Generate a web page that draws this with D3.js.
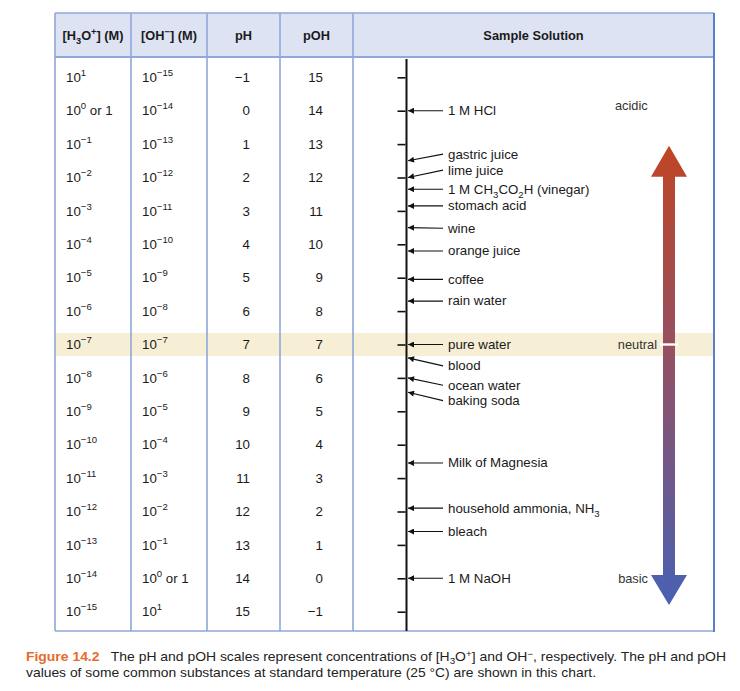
<!DOCTYPE html>
<html><head><meta charset="utf-8">
<script src="https://cdn.jsdelivr.net/npm/d3@7"></script>
<style>
body{margin:0;background:#fff;}
svg{display:block;font-family:"Liberation Sans",Arial,sans-serif;}
</style></head>
<body><svg id="c" width="740" height="691"></svg>
<script>
// ---- data ----
const pHValues   = [-1, 0, 1, 2, 3, 4, 5, 6, 7, 8, 9, 10, 11, 12, 13, 14, 15];
const pOHValues  = [15, 14, 13, 12, 11, 10, 9, 8, 7, 6, 5, 4, 3, 2, 1, 0, -1];
const h3oExp     = ["1", "0", "−1", "−2", "−3", "−4", "−5", "−6", "−7", "−8", "−9", "−10", "−11", "−12", "−13", "−14", "−15"];
const ohExp      = ["−15", "−14", "−13", "−12", "−11", "−10", "−9", "−8", "−7", "−6", "−5", "−4", "−3", "−2", "−1", "0", "1"];
const headers    = ["[H_3O^+] (M)", "[OH^−] (M)", "pH", "pOH", "Sample Solution"];
const sampleNames = ["1 M HCl", "gastric juice", "lime juice", "1 M CH_3CO_2H (vinegar)", "stomach acid", "wine", "orange juice", "coffee", "rain water", "pure water", "blood", "ocean water", "baking soda", "Milk of Magnesia", "household ammonia, NH_3", "bleach", "1 M NaOH"];
const samplePH    = [0, 1.5, 2.0, 2.35, 2.85, 3.5, 4.2, 5.05, 5.7, 7.0, 7.4, 8.0, 8.43, 10.55, 11.9, 12.6, 14.0];
const labelPH     = [0, 1.3, 1.78, 2.35, 2.85, 3.52, 4.2, 5.05, 5.7, 7.0, 7.64, 8.22, 8.68, 10.55, 11.9, 12.6, 14.0];
const neutralPH = 7;
const sideLabels = [{t:"acidic", pH:0}, {t:"neutral", pH:7}, {t:"basic", pH:14}];

// ---- helpers ----
const svg = d3.select("#c");
function rich(sel, str, fs) {
  let parts = [];
  for (let i = 0; i < str.length; i++) {
    const ch = str[i];
    if ((ch === "_" || ch === "^") && i + 1 < str.length) {
      parts.push({t: str[i+1], s: ch === "_" ? "sub" : "sup"}); i++;
    } else {
      if (parts.length && !parts[parts.length-1].s) parts[parts.length-1].t += ch;
      else parts.push({t: ch, s: null});
    }
  }
  let shift = 0;
  parts.forEach(p => {
    const target = p.s === "sup" ? -fs*0.4 : p.s === "sub" ? fs*0.3 : 0;
    const ts = sel.append("tspan").text(p.t).attr("dy", target - shift);
    if (p.s) ts.attr("font-size", fs*0.72);
    shift = target;
  });
}
function power(sel, exp, fs, suffix) {
  sel.append("tspan").text("10");
  sel.append("tspan").text(exp).attr("dy", -fs*0.45).attr("font-size", fs*0.72);
  if (suffix) sel.append("tspan").text(suffix).attr("dy", fs*0.45);
}

// ---- layout ----
const L = 55, R = 714, T = 13, HB = 57, B = 631;
const colX = [55, 131, 207, 280, 353, 714];
const y = d3.scaleLinear().domain([-1, 15]).range([77.3, 611.7]);
const axisX = 406.5;
const fs = 13.3;
const border = "#8fa7d9";

svg.append("rect").attr("x", L).attr("y", T).attr("width", R - L).attr("height", HB - T).attr("fill", "#dee3f3");
svg.append("rect").attr("x", L).attr("y", y(neutralPH) - 11.5).attr("width", R - L).attr("height", 23).attr("fill", "#f6eed5");

const g = svg.append("g").attr("stroke", border).attr("stroke-width", 1.6);
colX.slice(0, 5).forEach(x => g.append("line").attr("x1", x).attr("x2", x).attr("y1", T).attr("y2", B));
g.append("line").attr("x1", L).attr("x2", R).attr("y1", T).attr("y2", T);
g.append("line").attr("x1", L).attr("x2", R).attr("y1", B).attr("y2", B);
g.append("line").attr("x1", L).attr("x2", R).attr("y1", HB).attr("y2", HB).attr("stroke-width", 2);
svg.append("line").attr("x1", R).attr("x2", R).attr("y1", T).attr("y2", B + 1).attr("stroke", "#5d7fcb").attr("stroke-width", 2);

headers.forEach((h, i) => {
  const t = svg.append("text").attr("x", (colX[i] + colX[i+1]) / 2).attr("y", 40)
    .attr("text-anchor", "middle").attr("font-weight", "bold").attr("font-size", 12.8).attr("fill", "#1a1a1a");
  rich(t, h, 12.8);
});

pHValues.forEach((p, i) => {
  const by = y(p) + 4.6;
  const t1 = svg.append("text").attr("x", 66).attr("y", by).attr("font-size", fs).attr("fill", "#1a1a1a");
  power(t1, h3oExp[i], fs, h3oExp[i] === "0" ? " or 1" : null);
  const t2 = svg.append("text").attr("x", 142).attr("y", by).attr("font-size", fs).attr("fill", "#1a1a1a");
  power(t2, ohExp[i], fs, ohExp[i] === "0" ? " or 1" : null);
  svg.append("text").attr("x", 250).attr("y", by).attr("text-anchor", "end").attr("font-size", fs).attr("fill", "#1a1a1a")
    .text(String(p).replace("-", "−"));
  svg.append("text").attr("x", 323).attr("y", by).attr("text-anchor", "end").attr("font-size", fs).attr("fill", "#1a1a1a")
    .text(String(pOHValues[i]).replace("-", "−"));
});

svg.append("line").attr("x1", axisX).attr("x2", axisX).attr("y1", 59).attr("y2", B).attr("stroke", "#111").attr("stroke-width", 2);
const ax = svg.append("g").attr("transform", `translate(${axisX - 1},0)`)
  .call(d3.axisLeft(y).tickValues(pHValues).tickSize(8).tickFormat(""));
ax.select(".domain").remove();
ax.selectAll(".tick line").attr("stroke", "#111").attr("stroke-width", 1.6);

const defs = svg.append("defs");
defs.append("marker").attr("id", "ah").attr("viewBox", "0 0 10 10").attr("refX", 10).attr("refY", 5)
  .attr("markerWidth", 9).attr("markerHeight", 6).attr("markerUnits", "userSpaceOnUse").attr("orient", "auto")
  .append("path").attr("d", "M0,0 L10,5 L0,10 Z").attr("fill", "#111");
sampleNames.forEach((n, i) => {
  svg.append("line").attr("x1", 443).attr("y1", y(labelPH[i])).attr("x2", axisX + 1.5).attr("y2", y(samplePH[i]))
    .attr("stroke", "#111").attr("stroke-width", 1.1).attr("marker-end", "url(#ah)");
  const t = svg.append("text").attr("x", 448).attr("y", y(labelPH[i]) + 4.4).attr("font-size", fs).attr("fill", "#1a1a1a");
  rich(t, n, fs);
});

const grad = defs.append("linearGradient").attr("id", "ag").attr("gradientUnits", "userSpaceOnUse")
  .attr("x1", 0).attr("x2", 0).attr("y1", y(1.05)).attr("y2", y(14.8));
grad.append("stop").attr("offset", 0).attr("stop-color", "#bf4524");
grad.append("stop").attr("offset", 0.45).attr("stop-color", "#955063");
grad.append("stop").attr("offset", 1).attr("stop-color", "#4761b4");
const cx = 669, sw = 6, hw = 18;
const yTop = y(1.05), yTopBase = y(1.98), yBotBase = y(13.9), yBot = y(14.8);
svg.append("path").attr("fill", "url(#ag)")
  .attr("d", `M${cx},${yTop} L${cx+hw},${yTopBase} L${cx+sw},${yTopBase} L${cx+sw},${yBotBase} L${cx+hw},${yBotBase} L${cx},${yBot} L${cx-hw},${yBotBase} L${cx-sw},${yBotBase} L${cx-sw},${yTopBase} L${cx-hw},${yTopBase} Z`);
svg.append("rect").attr("x", cx - 9).attr("y", y(neutralPH) - 1.2).attr("width", 18).attr("height", 2.4).attr("fill", "#fff");

sideLabels.forEach(s => {
  const t = svg.append("text").attr("y", y(s.pH) + (s.t === "acidic" ? -1 : 4.4)).attr("font-size", 12.8).attr("fill", "#333").text(s.t);
  if (s.t === "acidic") t.attr("x", 615);
  else if (s.t === "neutral") t.attr("x", 657).attr("text-anchor", "end");
  else t.attr("x", 648).attr("text-anchor", "end");
});

const cap1 = svg.append("text").attr("x", 26).attr("y", 661).attr("font-size", 12.8).attr("fill", "#222")
  .attr("textLength", 700).attr("lengthAdjust", "spacingAndGlyphs");
cap1.append("tspan").text("Figure 14.2").attr("fill", "#e8692c").attr("font-weight", "bold");
cap1.append("tspan").text("\u00a0\u00a0 The pH and pOH scales represent concentrations of [H");
cap1.append("tspan").text("3").attr("font-size", 9).attr("dy", 3);
cap1.append("tspan").text("O").attr("dy", -3);
cap1.append("tspan").text("+").attr("font-size", 9).attr("dy", -4);
cap1.append("tspan").text("] and OH").attr("dy", 4);
cap1.append("tspan").text("−").attr("font-size", 9).attr("dy", -4);
cap1.append("tspan").text(", respectively. The pH and pOH").attr("dy", 4);
svg.append("text").attr("x", 26).attr("y", 677).attr("font-size", 12.8).attr("fill", "#222")
  .attr("textLength", 570).attr("lengthAdjust", "spacingAndGlyphs")
  .text("values of some common substances at standard temperature (25 °C) are shown in this chart.");
</script></body></html>
